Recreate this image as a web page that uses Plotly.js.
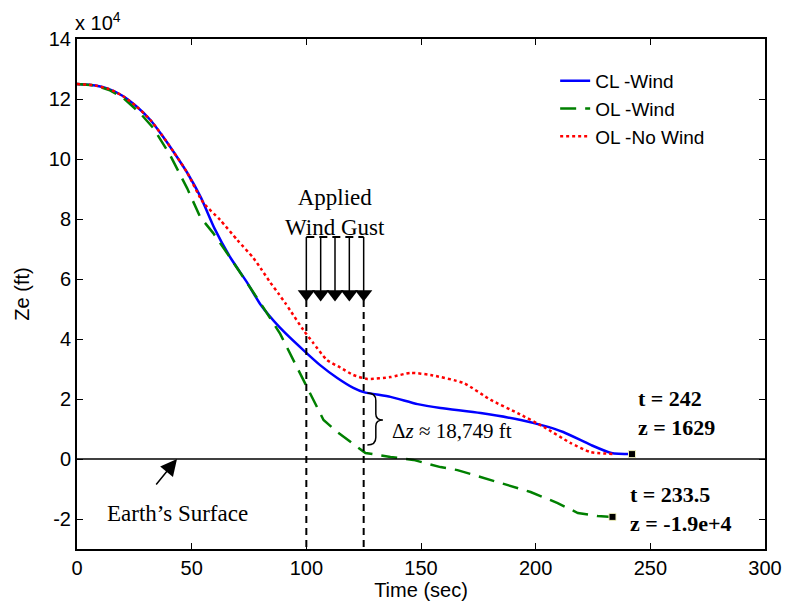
<!DOCTYPE html>
<html>
<head>
<meta charset="utf-8">
<script src="https://cdn.plot.ly/plotly-3.0.1.min.js"></script>
<style>html,body{margin:0;padding:0;background:#fff;}#chart{width:791px;height:601px;}</style>
</head>
<body>
<div id="chart"></div>
<script>
// Time (sec) and altitude Ze (in units of 1e4 ft)
const tCL = [0, 8, 14, 20, 26, 32, 37, 42, 48, 54, 60, 67, 74.2, 80, 88.6, 98.7, 106, 113.5, 120.5, 125, 136.7, 148.5, 158.5, 176, 193.5, 203, 212, 224, 233, 242];
const zCL = [12.5, 12.45, 12.33, 12.1, 11.75, 11.3, 10.8, 10.25, 9.55, 8.72, 7.68, 6.7, 5.88, 5.15, 4.37, 3.63, 3.13, 2.7, 2.37, 2.23, 2.07, 1.83, 1.7, 1.53, 1.3, 1.12, 0.9, 0.47, 0.2, 0.1629];

const tOLW = [0, 8, 14, 20, 27.5, 33.3, 40.6, 48, 53.7, 59.4, 66, 72.5, 80, 88.6, 95.9, 98.7, 104.8, 107.5, 113.5, 122.3, 125.8, 136.7, 146.7, 158.5, 165.9, 183.4, 197.8, 209.6, 218.4, 227, 233.5];
const zOLW = [12.5, 12.45, 12.3, 12.05, 11.53, 11.03, 10.13, 9.03, 8.07, 7.53, 6.8, 6.07, 5.2, 4.17, 3.08, 2.63, 1.73, 1.3, 0.9, 0.4, 0.2, 0.07, -0.03, -0.27, -0.37, -0.77, -1.1, -1.47, -1.8, -1.9, -1.93];

const tOLN = [0, 8, 14, 20, 26, 32, 37, 42, 48, 55, 62.4, 69.9, 76.9, 80.6, 84.3, 88, 90.8, 93, 98.7, 103, 109, 114.8, 120.5, 126.6, 136.7, 145.4, 154.2, 168.6, 180.4, 192.1, 203.5, 215.3, 224, 233.6];
const zOLN = [12.5, 12.45, 12.33, 12.1, 11.75, 11.3, 10.8, 10.25, 9.55, 8.55, 7.97, 7.3, 6.7, 6.3, 5.88, 5.5, 5.2, 4.95, 4.3, 3.87, 3.3, 3.05, 2.8, 2.67, 2.73, 2.87, 2.8, 2.53, 1.97, 1.53, 1.07, 0.53, 0.23, 0.17];

// Impact points
const endT = [242, 233.5];
const endZ = [0.1629, -1.93];

// Wind gust window and arrows
const gustTimes = [100, 106.25, 112.5, 118.75, 125];
const gustTop = 7.4, gustArrowTip = 5.3;
const axisBottom = -3;

const xTicks = [0, 50, 100, 150, 200, 250, 300];
const yTicks = [-2, 0, 2, 4, 6, 8, 10, 12, 14];
const yTickLabels = ['-2', '0', '2', '4', '6', '8', '10', '12', '14'];

const serif = "Liberation Serif, Times New Roman, serif";
const sans = "Liberation Sans, Arial, sans-serif";

// gust arrow shafts
const shaftX = [], shaftY = [];
gustTimes.forEach(t => { shaftX.push(t, t, null); shaftY.push(gustTop, gustArrowTip + 0.3, null); });

const traces = [
  {x: tCL, y: zCL, name: 'CL -Wind', mode: 'lines', line: {color: '#0000ff', width: 2.5, shape: 'spline', smoothing: 0.6}},
  {x: tOLW, y: zOLW, name: 'OL -Wind', mode: 'lines', line: {color: '#008000', width: 2.5, dash: '16px,9px'}},
  {x: tOLN, y: zOLN, name: 'OL -No Wind', mode: 'lines', line: {color: '#ff0000', width: 2.5, dash: 'dot', shape: 'spline', smoothing: 0.6}},
  // gust window boundaries
  {x: [gustTimes[0], gustTimes[0], null, gustTimes[4], gustTimes[4]], y: [gustArrowTip, axisBottom, null, gustArrowTip, axisBottom],
   mode: 'lines', line: {color: 'black', width: 2, dash: '7px,5px'}, showlegend: false, hoverinfo: 'skip'},
  {x: [gustTimes[0], gustTimes[4]], y: [gustTop, gustTop], mode: 'lines',
   line: {color: 'black', width: 2, dash: '8px,5px'}, showlegend: false, hoverinfo: 'skip'},
  {x: shaftX, y: shaftY, mode: 'lines', line: {color: 'black', width: 1.5}, showlegend: false, hoverinfo: 'skip'},
  {x: gustTimes, y: gustTimes.map(() => gustArrowTip + 0.2), mode: 'markers',
   marker: {symbol: 'triangle-down', size: 15, color: 'black'}, showlegend: false, hoverinfo: 'skip'},
  {x: endT, y: endZ, mode: 'markers', marker: {symbol: 'square', size: 7, color: 'black', line: {color: '#eeeebb', width: 1}},
   showlegend: false, hoverinfo: 'skip'}
];

// brace
const bx0 = 126.6, bx1 = 130.3, bx2 = 133.4, byT = 2.2, byB = 0.47, byM = 1.3;
const bracePath = `M ${bx0},${byT} Q ${bx1},${byT} ${bx1},${byT-0.25} L ${bx1},${byM+0.2} Q ${bx1},${byM} ${bx2},${byM} Q ${bx1},${byM} ${bx1},${byM-0.2} L ${bx1},${byB+0.25} Q ${bx1},${byB} ${bx0},${byB}`;

const layout = {
  width: 791, height: 601,
  margin: {l: 77, r: 26, t: 39, b: 52},
  paper_bgcolor: 'white', plot_bgcolor: 'white',
  font: {family: sans, size: 20, color: 'black'},
  xaxis: {
    range: [0, 300], tickvals: xTicks, ticks: 'inside', ticklen: 6, tickwidth: 1, tickcolor: 'black',
    showline: true, linecolor: 'black', linewidth: 2, mirror: 'ticks', showgrid: false, zeroline: false,
    tickfont: {family: sans, size: 20, color: 'black'},
    title: {text: 'Time (sec)', font: {family: sans, size: 20, color: 'black'}, standoff: 0}
  },
  yaxis: {
    range: [-3, 14], tickvals: yTicks, ticktext: yTickLabels, ticks: 'inside', ticklen: 6, tickwidth: 1, tickcolor: 'black',
    showline: true, linecolor: 'black', linewidth: 2, mirror: 'ticks', showgrid: false, zeroline: false,
    tickfont: {family: sans, size: 20, color: 'black'},
    title: {text: 'Ze (ft)', font: {family: sans, size: 20, color: 'black'}, standoff: 14}
  },
  showlegend: true,
  legend: {x: 0.695, y: 0.955, xanchor: 'left', yanchor: 'top', bgcolor: 'rgba(255,255,255,0)',
           font: {family: sans, size: 19, color: 'black'}, tracegroupgap: 0},
  shapes: [
    {type: 'line', xref: 'paper', x0: 0, x1: 1, yref: 'y', y0: 0, y1: 0, line: {color: 'black', width: 1.3}},
    {type: 'path', xref: 'x', yref: 'y', path: bracePath, line: {color: 'black', width: 1.5}}
  ],
  annotations: [
    {xref: 'paper', yref: 'paper', x: 0, y: 1, xanchor: 'left', yanchor: 'bottom', xshift: -4, yshift: 3,
     text: 'x 10<sup>4</sup>', showarrow: false, font: {family: sans, size: 20, color: 'black'}},
    {xref: 'x', yref: 'y', x: 112.7, y: 8.22, text: 'Applied<br>Wind Gust', showarrow: false,
     font: {family: serif, size: 23, color: 'black'}},
    {xref: 'x', yref: 'y', x: 136.5, y: 0.93, xanchor: 'left', text: 'Δ<i>z</i> ≈ 18,749 ft', showarrow: false,
     font: {family: serif, size: 21, color: 'black'}},
    {xref: 'x', yref: 'y', x: 243.7, y: 1.53, xanchor: 'left', align: 'left', text: '<b>t = 242</b><br><b>z = 1629</b>', showarrow: false,
     font: {family: serif, size: 22, color: 'black'}},
    {xref: 'x', yref: 'y', x: 240.2, y: -1.65, xanchor: 'left', align: 'left', text: '<b>t = 233.5</b><br><b>z = -1.9e+4</b>', showarrow: false,
     font: {family: serif, size: 22, color: 'black'}},
    {xref: 'x', yref: 'y', x: 43.7, y: -1.8, text: 'Earth’s Surface', showarrow: false,
     font: {family: serif, size: 23, color: 'black'}},
    {xref: 'x', yref: 'y', x: 43.6, y: 0.0, axref: 'x', ayref: 'y', ax: 34, ay: -0.9, text: '',
     showarrow: true, arrowhead: 2, arrowsize: 2.2, arrowwidth: 1.5, arrowcolor: 'black'}
  ]
};

Plotly.newPlot('chart', traces, layout, {displayModeBar: false, staticPlot: true});
</script>
</body>
</html>
